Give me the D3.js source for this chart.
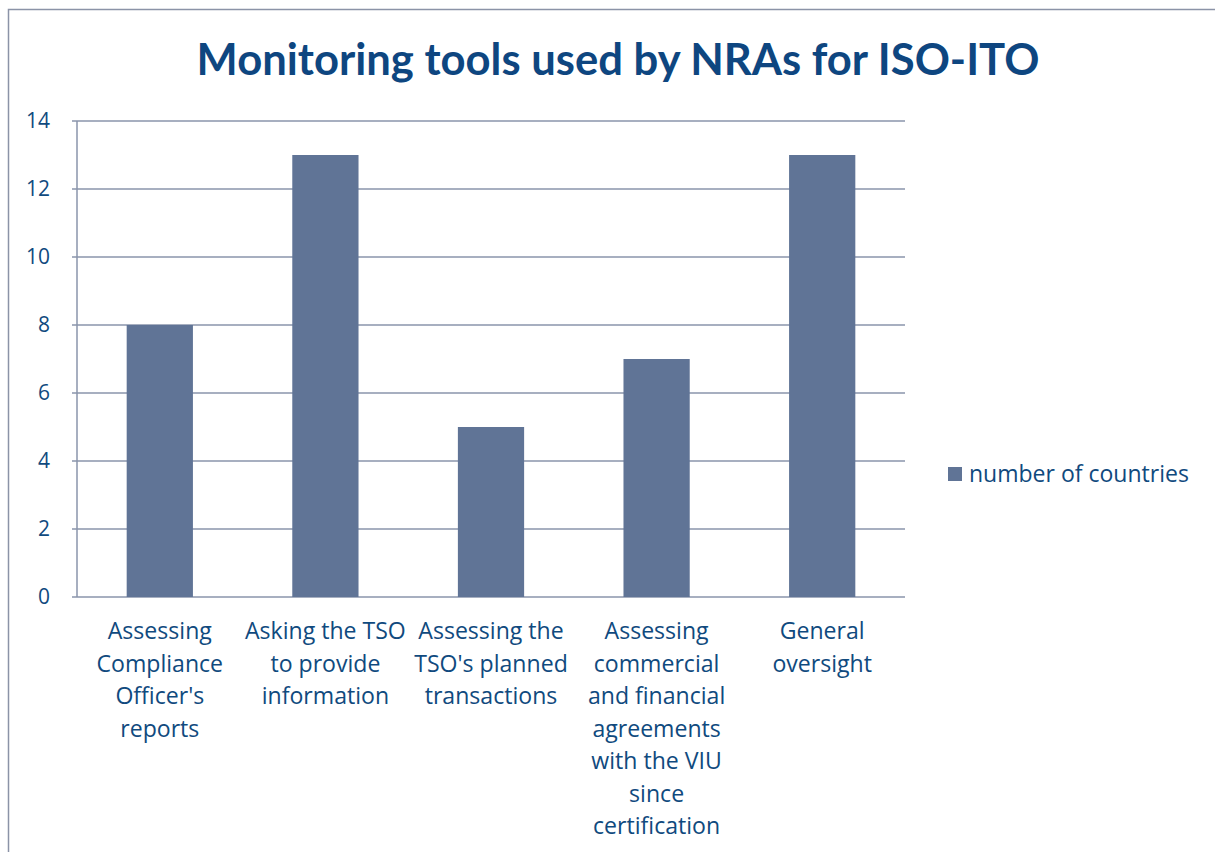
<!DOCTYPE html>
<html><head><meta charset="utf-8">
<script src="https://cdn.jsdelivr.net/npm/d3@7"></script>
<style>html,body{margin:0;padding:0;background:#fff;} svg{display:block;}</style>
</head><body>
<svg id="c" width="1215" height="852"></svg>
<script>
const title = "Monitoring tools used by NRAs for ISO-ITO";
const categories = [
  ["Assessing","Compliance","Officer's","reports"],
  ["Asking the TSO","to provide","information"],
  ["Assessing the","TSO's planned","transactions"],
  ["Assessing","commercial","and financial","agreements","with the VIU","since","certification"],
  ["General","oversight"]
];
const values = [8, 13, 5, 7, 13];
const yTicks = [0, 2, 4, 6, 8, 10, 12, 14];
const seriesName = "number of countries";

const textColor = "#104a7e";
const barColor = "#607496";
const gridColor = "#8a95ab";
const font = "'Open Sans', Lato, sans-serif";
const titleFont = "Lato, 'Open Sans', sans-serif";

const svg = d3.select("#c");
svg.append("path").attr("d","M8.5,860 L8.5,9.5 L1230,9.5").attr("fill","none").attr("stroke","#8b93a7").attr("stroke-width",1.5);

const L=77, R=905, T=121, B=597;
const x = d3.scaleBand().domain(d3.range(values.length)).range([L,R]).paddingInner(0.6).paddingOuter(0.3);
const y = d3.scaleLinear().domain([0,14]).range([B,T]);

// measure helper to fit font size
function fitSize(str, family, weight, targetW){
  const t = svg.append("text").attr("font-family",family).attr("font-weight",weight).attr("font-size",20).text(str);
  const w = t.node().getComputedTextLength(); t.remove();
  return 20*targetW/w;
}
const labelSize = fitSize("Asking the TSO", font, "normal", 161);
const legendSize = fitSize(seriesName, font, "normal", 220);
const tickSize = fitSize("14", font, "normal", 24);

svg.append("g").selectAll("line").data(yTicks).join("line")
  .attr("x1",L-5).attr("x2",R).attr("y1",d=>y(d)).attr("y2",d=>y(d))
  .attr("stroke",gridColor).attr("stroke-width",1.5);
svg.append("line").attr("x1",L).attr("x2",L).attr("y1",T).attr("y2",B).attr("stroke",gridColor).attr("stroke-width",1.5);

svg.append("g").selectAll("rect").data(values).join("rect")
  .attr("x",(d,i)=>x(i)).attr("width",x.bandwidth())
  .attr("y",d=>y(d)).attr("height",d=>B-y(d)).attr("fill",barColor);

svg.append("g").selectAll("text").data(yTicks).join("text")
  .attr("x",50).attr("y",d=>y(d)).attr("dy","0.35em").attr("text-anchor","end")
  .attr("font-family",font).attr("font-size",tickSize).attr("fill",textColor).text(d=>d);

const step = (R-L)/values.length;
categories.forEach((lines,i)=>{
  const cx = L + step*(i+0.5);
  const t = svg.append("text").attr("text-anchor","middle").attr("font-family",font)
    .attr("font-size",labelSize).attr("fill",textColor);
  lines.forEach((ln,j)=>{
    t.append("tspan").attr("x",cx).attr("y",631+j*32.5).attr("dy","0.35em").text(ln);
  });
});

const tt = svg.append("text").attr("x",618).attr("y",60).attr("dy","0.35em").attr("text-anchor","middle")
  .attr("font-family",titleFont).attr("font-weight","bold").attr("font-size",42).attr("fill","#0e4680").text(title);
const w = tt.node().getComputedTextLength();
tt.attr("font-size", 42*843/w);

svg.append("rect").attr("x",948).attr("y",467).attr("width",14).attr("height",14).attr("fill",barColor);
svg.append("text").attr("x",969).attr("y",474).attr("dy","0.35em").attr("font-family",font)
  .attr("font-size",legendSize).attr("fill",textColor).text(seriesName);
</script>
</body></html>
